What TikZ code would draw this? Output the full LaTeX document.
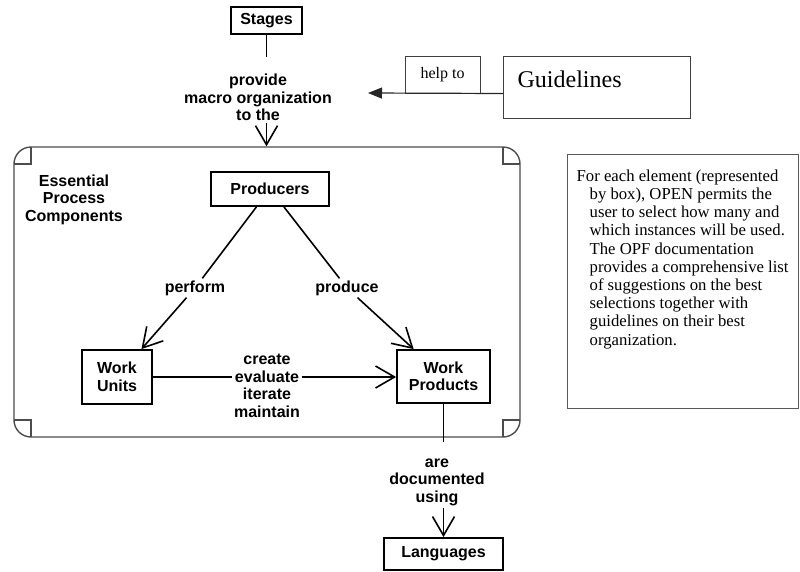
\documentclass[tikz,border=0pt]{standalone}
\usepackage{fontspec}
\setmainfont{Liberation Serif}
\setsansfont{Liberation Sans}
\usetikzlibrary{arrows.meta}

\begin{document}
\begin{tikzpicture}[x=1pt,y=-1pt,
  box/.style={draw,line width=1.8pt,font=\sffamily\bfseries\fontsize{16}{17.5}\selectfont,align=center,inner sep=0pt},
  lbl/.style={font=\sffamily\bfseries\fontsize{16}{17.5}\selectfont,align=center,inner sep=2pt},
  frame/.style={draw=black!70,line width=1.4pt},
  conn/.style={line width=1.6pt},
  barb/.style={conn,-{Straight Barb[length=19pt,width=22pt]}}]
 \useasboundingbox (0,0) rectangle (800,571);
 % process components frame
 \node[frame,rounded corners=17pt,minimum width=506pt,minimum height=290pt] (epc) at (267,292) {};
 \draw[frame] (14,164) -| (31,147);
 \draw[frame] (503,147) |- (520,164);
 \draw[frame] (14,420) -| (31,437);
 \draw[frame] (503,437) |- (520,420);
 \node[lbl] (epcl) at (74,199.5) {Essential\\Process\\Components};
 % boxes
 \node[box,minimum width=71pt,minimum height=27pt] (stages) at (266.5,20.5) {Stages};
 \node[box,minimum width=118pt,minimum height=34pt] (prod) at (270,189) {Producers};
 \node[box,minimum width=70pt,minimum height=54pt] (wu) at (117,377) {Work\\Units};
 \node[box,minimum width=93pt,minimum height=53pt] (wp) at (443.5,376.5) {Work\\Products};
 \node[box,minimum width=119pt,minimum height=32pt] (lang) at (443.5,554) {Languages};
 \node[draw=black!75,line width=1pt,minimum width=75pt,minimum height=37pt,inner sep=0pt,
   font=\fontsize{16}{18}\selectfont] (help) at (442.5,74.5) {help to};
 \node[draw=black!75,line width=1.3pt,anchor=north west,minimum width=187pt,minimum height=62pt,
   inner xsep=14pt,inner ysep=0pt,text width=159pt,align=left,text depth=16pt,
   font=\fontsize{24}{28}\selectfont] (guide) at (503,56) {Guidelines};
 % note
 \node[draw=black!65,line width=1.3pt,anchor=north west,inner xsep=5pt,inner ysep=8pt,
   font=\fontsize{16.7}{18.2}\selectfont] (note) at (567,154) {\parbox[t][238pt][t]{221pt}{\raggedright
   \vspace*{7pt}\hangindent=17pt\hangafter=1
   \hspace*{4pt}For each element (represented\newline by box), OPEN permits the\newline user to select how many and\newline
   which instances will be used.\newline The OPF documentation\newline provides a comprehensive list\newline
   of suggestions on the best\newline selections together with\newline guidelines on their best\newline organization.}};
 % labels
 \node[lbl] (provide) at (258,97.5) {provide\\macro organization\\to the};
 \node[lbl] (perform) at (195,288) {perform};
 \node[lbl] (produce) at (347,288) {produce};
 \node[lbl] (create) at (267,386) {create\\evaluate\\iterate\\maintain};
 \node[lbl] (docu) at (437,482) {are\\documented\\using};
 \coordinate (stg) at (266.5,57);
 \coordinate (wpd) at (443.5,442);
 \coordinate (hlp) at (368,93);
 % connectors
 \draw[conn] (stages) -- (stg);
 \draw[barb] (provide.south -| stages) -- (epc.north -| stages);
 \draw[conn] (prod) -- (perform);
 \draw[barb] (perform) -- (wu);
 \draw[conn] (prod) -- (produce);
 \draw[barb] (produce) -- (wp);
 \draw[conn] (wu.east) -- (create.west |- wu.east);
 \draw[barb] (create.east |- wu.east) -- (wp.west |- wu.east);
 \draw[conn] (wp) -- (wpd);
 \draw[barb] (docu.south -| wp) -- (lang);
 \draw[line width=1.2pt,black!85,-{Triangle[length=14pt,width=11pt]}] (guide.west |- help.south) -- (hlp);
\end{tikzpicture}
\end{document}
